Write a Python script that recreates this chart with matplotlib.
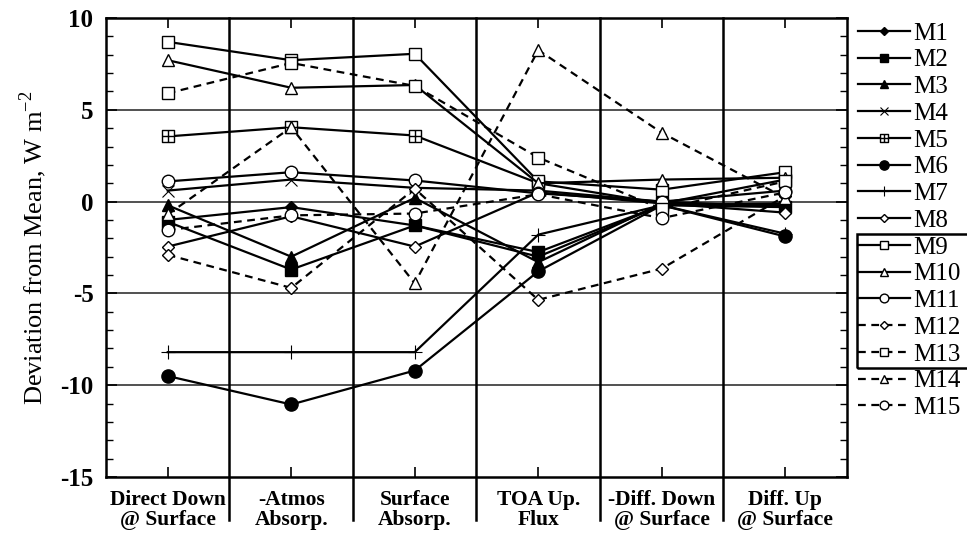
import matplotlib
matplotlib.use("Agg")
import matplotlib.pyplot as plt
from matplotlib.path import Path
from matplotlib.patches import Rectangle
from matplotlib.ticker import MultipleLocator

plt.rcParams['font.family'] = ['Liberation Serif', 'DejaVu Serif']
plt.rcParams['mathtext.fontset'] = 'custom'
plt.rcParams['mathtext.rm'] = 'Liberation Serif'
plt.rcParams['axes.unicode_minus'] = False

categories = ["Direct Down\n@ Surface", "-Atmos\nAbsorp.", "Surface\nAbsorp.",
              "TOA Up.\nFlux", "-Diff. Down\n@ Surface", "Diff. Up\n@ Surface"]

m1 = [-1.0, -0.3, -1.3, -3.0, -0.2, -0.1]
m2 = [-1.1, -3.7, -1.3, -2.75, -0.2, -0.3]
m3 = [-0.2, -3.0, 0.2, -3.3, -0.1, -0.2]
m4 = [0.6, 1.2, 0.75, 0.6, 0.0, -0.3]
m5 = [3.55, 4.05, 3.6, 1.0, -0.1, 1.2]
m6 = [-9.5, -11.05, -9.2, -3.8, -0.2, -1.9]
m7 = [-8.2, -8.2, -8.2, -1.8, -0.2, -1.75]
m8 = [-2.45, -0.8, -2.45, 0.5, -0.1, -0.6]
m9 = [8.7, 7.7, 8.05, 1.1, 0.65, 1.6]
m10 = [7.7, 6.2, 6.35, 1.0, 1.2, 1.3]
m11 = [1.1, 1.6, 1.15, 0.45, 0.0, 0.6]
m12 = [-2.9, -4.7, 0.7, -5.35, -3.65, 0.3]
m13 = [5.9, 7.55, 6.3, 2.4, -0.4, 1.1]
m14 = [-0.7, 4.05, -4.45, 8.25, 3.75, 0.2]
m15 = [-1.55, -0.75, -0.65, 0.4, -0.9, 0.5]

labels = ["M%d" % i for i in range(1, 16)]

# square with a plus inside
boxplus = Path(
    [(-1, -1), (1, -1), (1, 1), (-1, 1), (-1, -1), (0, -1), (0, 1), (-1, 0), (1, 0)],
    [Path.MOVETO, Path.LINETO, Path.LINETO, Path.LINETO, Path.CLOSEPOLY,
     Path.MOVETO, Path.LINETO, Path.MOVETO, Path.LINETO])

# (values, marker, face, size, linestyle)
styles = [
    (m1, 'D', 'black', 6.5, '-'),
    (m2, 's', 'black', 8.5, '-'),
    (m3, '^', 'black', 8.5, '-'),
    (m4, 'x', 'black', 8.5, '-'),
    (m5, boxplus, 'white', 8.5, '-'),
    (m6, 'o', 'black', 9.5, '-'),
    (m7, '+', 'black', 9.5, '-'),
    (m8, 'D', 'white', 6.5, '-'),
    (m9, 's', 'white', 9.0, '-'),
    (m10, '^', 'white', 8.5, '-'),
    (m11, 'o', 'white', 9.0, '-'),
    (m12, 'D', 'white', 6.5, '--'),
    (m13, 's', 'white', 9.0, '--'),
    (m14, '^', 'white', 8.5, '--'),
    (m15, 'o', 'white', 9.0, '--'),
]

fig = plt.figure(figsize=(9.67, 5.37), dpi=100)
ax = fig.add_axes([0.1096, 0.1117, 0.7663, 0.8548])

x = list(range(len(categories)))
handles = []
for lab, (vals, mk, fc, ms, ls) in zip(labels, styles):
    mew = 0.8 if mk in ('x', '+') else 1.0
    h, = ax.plot(x, vals, color='black', lw=1.6, linestyle=ls,
                 marker=mk, markersize=ms, markerfacecolor=fc,
                 markeredgecolor='black', markeredgewidth=mew,
                 label=lab, zorder=3)
    if ls == '--':
        h.set_dashes((3.5, 2.5))
    handles.append(h)

ax.set_xlim(-0.5, 5.5)
ax.set_ylim(-15, 10)

# horizontal reference lines
for yv in (5, 0, -5, -10):
    ax.axhline(yv, color='#333333', lw=1.2, zorder=1)
# category dividers running down into the label area
for xv in (0.5, 1.5, 2.5, 3.5, 4.5):
    ax.axvline(xv, ymin=-0.094, ymax=1, color='black', lw=1.8, zorder=1, clip_on=False)

for s in ax.spines.values():
    s.set_linewidth(1.8)

ax.set_xticks(x)
ax.set_xticklabels(categories, fontweight='bold', fontsize=15.5, linespacing=1.0)
ax.yaxis.set_major_locator(MultipleLocator(5))
ax.yaxis.set_minor_locator(MultipleLocator(1))
ax.tick_params(axis='x', direction='in', length=7, width=1.2, top=True, pad=9)
ax.tick_params(axis='y', which='major', direction='in', length=8, width=1.2,
               right=True, pad=9, labelsize=18)
ax.tick_params(axis='y', which='minor', direction='in', length=5, width=1.0, right=True)
for t in ax.get_yticklabels():
    t.set_fontweight('bold')

ax.set_ylabel("Deviation from Mean, W m$^{-2}$", fontsize=19, labelpad=8)

leg = ax.legend(handles=handles, loc='upper left', bbox_to_anchor=(0.887, 0.959),
                bbox_transform=fig.transFigure, frameon=False, fontsize=18,
                handlelength=2.1, handletextpad=0.1, labelspacing=0.17,
                markerscale=0.7, borderaxespad=0.0, borderpad=0.0)

# frame around the M9-M13 group of the legend
fig.canvas.draw()
r = fig.canvas.get_renderer()
tb = [t.get_window_extent(r) for t in leg.get_texts()]
top = 0.5 * (tb[7].y0 + tb[8].y1)
bot = 0.5 * (tb[12].y0 + tb[13].y1)
left = 857
inv = fig.transFigure.inverted()
(fx0, fy0) = inv.transform((left, bot))
(fx1, fy1) = inv.transform((fig.bbox.width + 5, top))
fig.patches.append(Rectangle((fx0, fy0), fx1 - fx0, fy1 - fy0, transform=fig.transFigure,
                             fill=False, edgecolor='black', lw=1.8, clip_on=False))

fig.savefig("out.png", dpi=100)
